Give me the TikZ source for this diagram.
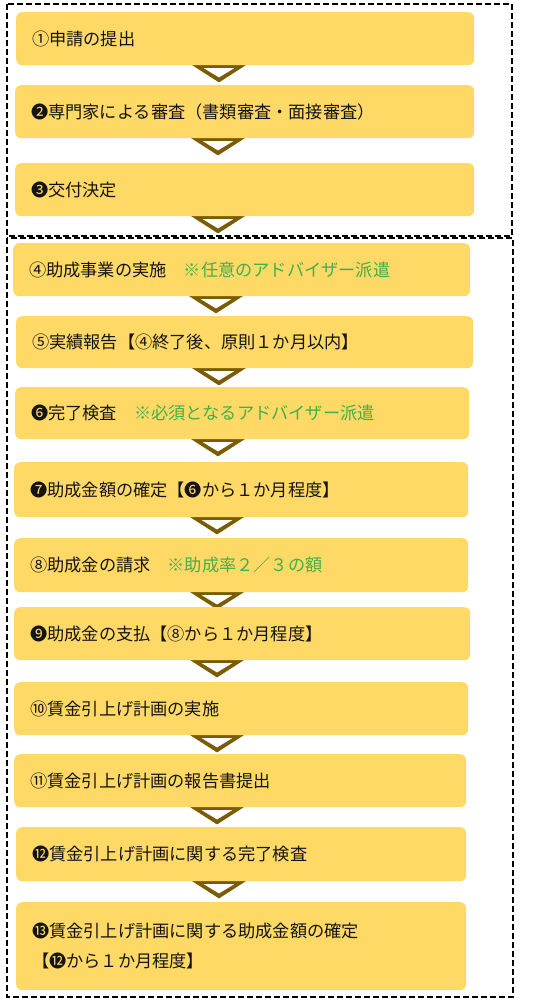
\documentclass[tikz,border=0pt]{standalone}
\usepackage{fontspec}
\newfontfamily\jp{Noto Sans CJK JP}
\usetikzlibrary{backgrounds,calc}
\definecolor{boxfill}{RGB}{255,217,102}
\definecolor{arrowc}{RGB}{122,92,5}
\definecolor{notegreen}{RGB}{64,176,72}
\definecolor{textc}{RGB}{20,20,20}
\newcommand\greennote[1]{\textcolor{notegreen}{#1}}
\tikzset{
  stepbox/.style n args={3}{draw=none, fill=boxfill, rounded corners=6pt,
    anchor=north west, inner xsep=16pt, inner ysep=0pt,
    minimum width=#1pt, text width=#2pt, minimum height=#3pt,
    align=left, font=\jp\fontsize{17.2pt}{30pt}\selectfont, text=textc},
  frame/.style={draw=black, line width=1.6pt, dash pattern=on 6pt off 3pt},
  downtri/.pic={
    \fill[arrowc] (-28,0) -- (28,0) -- (0,18) -- cycle;
    \fill[white] (-15.2,3.8) -- (15.2,3.8) -- (0,13.0) -- cycle;
  },
}
\begin{document}
\begin{tikzpicture}[x=1pt,y=-1pt]
\begin{pgfonlayer}{background}
  \fill[white] (0,0) rectangle (560,1005);
\end{pgfonlayer}
\useasboundingbox (0,0) rectangle (560,1005);

\node[stepbox={458}{426}{53}] (b1) at (16,12) {①申請の提出};
\node[stepbox={459}{427}{53}] (b2) at (15,85) {❷専門家による審査（書類審査・面接審査）};
\node[stepbox={459}{427}{53}] (b3) at (15,163) {❸交付決定};
\node[stepbox={457}{425}{53}] (b4) at (13,243) {④助成事業の実施　\greennote{※任意のアドバイザー派遣}};
\node[stepbox={457}{425}{52}] (b5) at (16,316) {⑤実績報告【④終了後、原則１か月以内】};
\node[stepbox={454}{422}{52}] (b6) at (15,387) {❻完了検査　\greennote{※必須となるアドバイザー派遣}};
\node[stepbox={454}{422}{55}] (b7) at (14,462) {❼助成金額の確定【❻から１か月程度】};
\node[stepbox={454}{422}{54}] (b8) at (14,538) {⑧助成金の請求　\greennote{※助成率２／３の額}};
\node[stepbox={456}{424}{53}] (b9) at (14,607) {❾助成金の支払【⑧から１か月程度】};
\node[stepbox={454}{422}{53}] (b10) at (14,682) {⑩賃金引上げ計画の実施};
\node[stepbox={452}{420}{53}] (b11) at (14,754) {⑪賃金引上げ計画の報告書提出};
\node[stepbox={450}{418}{54}] (b12) at (16,827) {⓬賃金引上げ計画に関する完了検査};
\node[stepbox={450}{418}{88}] (b13) at (16,902) {⓭賃金引上げ計画に関する助成金額の確定\\【⓬から１か月程度】};

\begin{pgfonlayer}{background}
  \foreach \b in {b1,b2,b3,b4,b5,b6,b7,b8,b9,b10,b11,b12}{
    \pic at ($(\b.south west)+(203,-1)$) {downtri};
  }
\end{pgfonlayer}

\draw[frame] (7,4) rectangle (512,236);
\draw[frame] (7,238) rectangle (513,997);
\end{tikzpicture}
\end{document}
